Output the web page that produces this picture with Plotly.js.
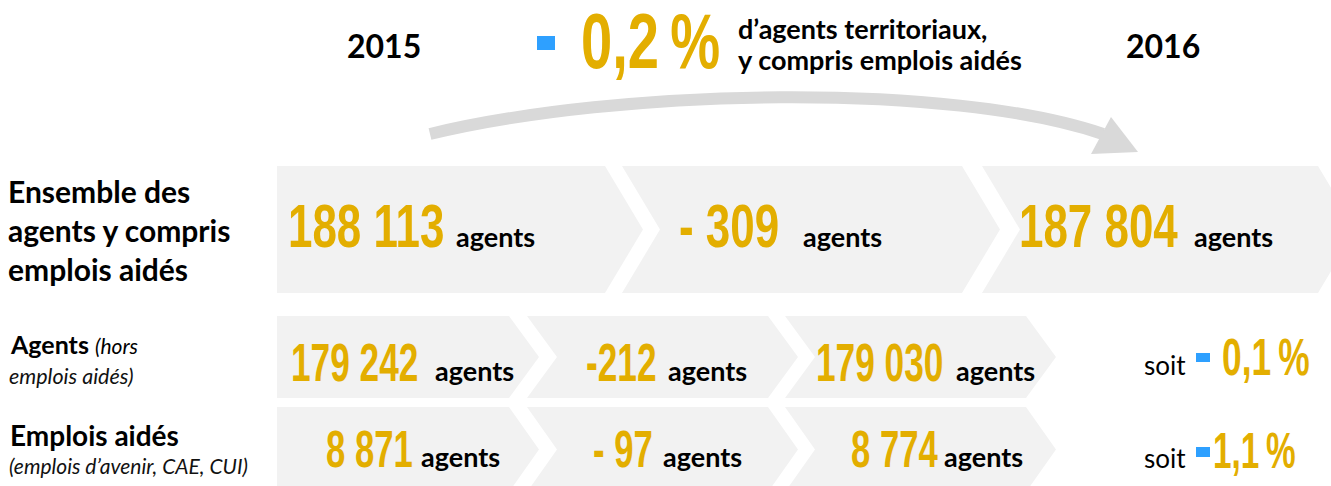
<!DOCTYPE html>
<html>
<head>
<meta charset="utf-8">
<script src="https://cdn.plot.ly/plotly-3.0.1.min.js"></script>
<style>
  html, body { margin: 0; padding: 0; background: #fff; }
  #chart { width: 1331px; height: 486px; }
</style>
<style id="numstyle"></style>
</head>
<body>
<div id="chart"></div>
<script>
// ---------------- DATA ----------------
const years = ['2015', '2016'];
const headlineText = ['d’agents territoriaux,', 'y compris emplois aidés'];
const rowTitles = ['Ensemble des<br>agents y compris<br>emplois aidés', 'Agents', 'Emplois aidés'];
const rowSubtitles = ['', '(hors', ''];
const rowSecondLines = ['', 'emplois aidés)', '(emplois d’avenir, CAE, CUI)'];
const agents2015 = [188113, 179242, 8871];
const agentsChange = [-309, -212, -97];
const agents2016 = [187804, 179030, 8774];
const unitLabel = 'agents';
const soitLabel = 'soit';

// ---------------- STYLE / LAYOUT CONFIG ----------------
const GOLD = '#E3AE00';
const BLUE = '#2EA0FF';
const BOX = '#F2F2F2';
const ARC = '#D9D9D9';
const numFont = '"Liberation Sans", Arial, sans-serif';
const txtFont = 'Lato, "Open Sans", sans-serif';

function fmt(n) {
  return String(Math.abs(n)).replace(/\B(?=(\d{3})+(?!\d))/g, ' ');
}
const changeSep = ['- ', '-', '- '];
function pct(i) {
  return (Math.abs(agentsChange[i]) / agents2015[i] * 100).toFixed(1).replace('.', ',') + '\u202F%';
}
const totalPct = pct(0);

// row geometry (pixels)
const rows = [
  {y0: 166, y1: 293, depth: 38, boxes: [[277, 605], [622, 962], [982, 1318]], base: 247, num: 61, sx: 0.72, unit: 27,
   numX: [287, 678, 1018], unitX: [455, 802, 1193]},
  {y0: 316, y1: 398, depth: 30, boxes: [[277, 509], [527, 768], [785, 1026]], base: 381, num: 53, sx: 0.665, unit: 27,
   numX: [290, 585, 815], unitX: [434, 667, 955]},
  {y0: 407, y1: 492, depth: 30, boxes: [[277, 509], [527, 768], [785, 1026]], base: 467, num: 51, sx: 0.68, unit: 27,
   numX: [325, 592, 850], unitX: [420, 662, 943]}
];

const shapes = [];
const annotations = [];
const scaled = [];

function chevron(x0, x1, y0, y1, d, notch) {
  const ym = (y0 + y1) / 2;
  let p = `M ${x0},${y0} L ${x1},${y0} L ${x1 + d},${ym} L ${x1},${y1} L ${x0},${y1}`;
  if (notch) p += ` L ${x0 + d},${ym}`;
  return p + ' Z';
}

function addText(text, x, baseline, size, font, color, weight, opts, sx) {
  const k = font === numFont ? 0.347 : 0.387;
  annotations.push(Object.assign({
    xref: 'x', yref: 'y', x: x, y: baseline - k * size,
    xanchor: 'left', yanchor: 'middle', showarrow: false, text: text,
    font: {family: font, size: size, color: color, weight: weight || 'bold'}, borderpad: 0
  }, opts || {}));
  if (sx) scaled.push([annotations.length - 1, sx]);
}

rows.forEach((r, i) => {
  r.boxes.forEach((b, j) => {
    shapes.push({type: 'path', xref: 'x', yref: 'y', path: chevron(b[0], b[1], r.y0, r.y1, r.depth, j > 0),
      fillcolor: BOX, line: {width: 0}, layer: 'below'});
  });
  const vals = [fmt(agents2015[i]), changeSep[i] + fmt(agentsChange[i]), fmt(agents2016[i])];
  vals.forEach((v, j) => {
    addText(v, r.numX[j], r.base, r.num, numFont, GOLD, 'bold', null, r.sx);
    addText(unitLabel, r.unitX[j], r.base, r.unit, txtFont, '#000');
  });
});

// row titles
addText(rowTitles[0], 7, 0, 30, txtFont, '#000', 'bold', {yanchor: 'top', y: 172, align: 'left'});
addText(rowTitles[1] + ' <span style="font-size:21px;font-weight:normal"><i>' + rowSubtitles[1] + '</i></span>',
  9, 354, 25, txtFont, '#000');
addText('<i>' + rowSecondLines[1] + '</i>', 8, 384, 21.5, txtFont, '#111', 'normal');
addText(rowTitles[2], 9, 446, 28, txtFont, '#000');
addText('<i>' + rowSecondLines[2] + '</i>', 8, 474, 21, txtFont, '#111', 'normal');

// header
addText(years[0], 384, 58, 32, txtFont, '#000', 'bold', {xanchor: 'center'});
addText(years[1], 1163, 58, 32, txtFont, '#000', 'bold', {xanchor: 'center'});
addText(totalPct, 580, 68, 78, numFont, GOLD, 'bold', null, 0.72);
addText(headlineText[0], 737, 39, 27, txtFont, '#000');
addText(headlineText[1], 737, 70, 27, txtFont, '#000');
shapes.push({type: 'rect', xref: 'x', yref: 'y', x0: 537, x1: 555, y0: 36, y1: 50, fillcolor: BLUE, line: {width: 0}});

// soit lines
const soitRows = [{base: 375, sq: [1196, 1210, 353, 362], px: 1221, size: 52},
                  {base: 468, sq: [1196, 1210, 447, 457], px: 1212, size: 49}];
soitRows.forEach((s, k) => {
  const i = k + 1;
  addText(soitLabel, 1143, s.base, 26, txtFont, '#000', 'normal');
  addText(pct(i), s.px, s.base, s.size, numFont, GOLD, 'bold', null, 0.68);
  shapes.push({type: 'rect', xref: 'x', yref: 'y', x0: s.sq[0], x1: s.sq[1], y0: s.sq[2], y1: s.sq[3], fillcolor: BLUE, line: {width: 0}});
});

// arc arrow
shapes.push({type: 'path', xref: 'x', yref: 'y', path: 'M 430,134 C 620,88 950,82 1103,134',
  line: {color: ARC, width: 12}, fillcolor: 'rgba(0,0,0,0)'});
shapes.push({type: 'path', xref: 'x', yref: 'y', path: 'M 1111,117 L 1091,154 L 1138,152 Z',
  fillcolor: ARC, line: {width: 0}});

// condensed look for the big gold figures
document.getElementById('numstyle').textContent = scaled.map(([i, s]) =>
  `#chart g.annotation[data-index="${i}"] text { transform-box: fill-box; transform-origin: 0 50%; transform: scaleX(${s}); }`
).join('\n');

const layout = {
  width: 1331, height: 486,
  margin: {l: 0, r: 0, t: 0, b: 0},
  paper_bgcolor: '#fff', plot_bgcolor: '#fff',
  xaxis: {range: [0, 1331], visible: false, fixedrange: true},
  yaxis: {range: [486, 0], visible: false, fixedrange: true},
  showlegend: false,
  shapes: shapes,
  annotations: annotations
};

Plotly.newPlot('chart', [], layout, {staticPlot: true, displayModeBar: false});
</script>
</body>
</html>
